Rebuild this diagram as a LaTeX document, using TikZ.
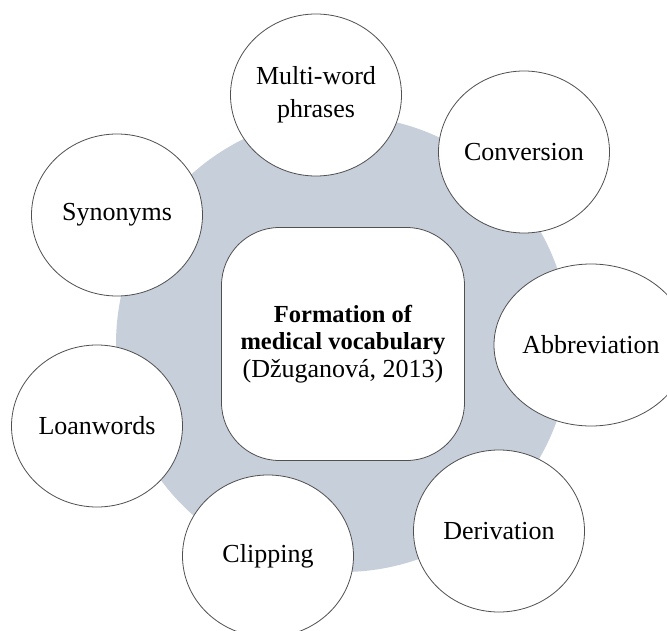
\documentclass[tikz,border=0pt]{standalone}
\usepackage{fontspec}
\setmainfont{Liberation Serif}
\usetikzlibrary{shapes.geometric}
\definecolor{ringgrey}{RGB}{199,207,218}
\definecolor{edgegrey}{RGB}{80,80,80}
\newcommand{\hubbold}[1]{{\fontsize{24.5}{27.5}\selectfont\bfseries #1}}
\begin{document}
\begin{tikzpicture}[x=1pt,y=-1pt,
  bubble/.style={ellipse, draw=edgegrey, line width=0.8pt, fill=white,
    minimum width=171pt, minimum height=162pt, inner sep=0pt,
    align=center, font=\fontsize{26}{33}\selectfont},
  hub/.style={rectangle, rounded corners=58pt, draw=edgegrey, line width=0.8pt,
    fill=white, minimum width=243pt, minimum height=233pt, inner sep=0pt,
    align=center, font=\fontsize{26}{27.5}\selectfont},
  ring/.style={ellipse, fill=ringgrey, minimum width=454pt,
    minimum height=456pt, inner sep=0pt}]
\useasboundingbox (0,0) rectangle (667,631);

% grey disc behind everything
\node[ring] (ring) at (343,344) {};

% central box
\node[hub] (hub) at (343,344)
  {\hubbold{Formation of}\\\hubbold{medical vocabulary}\\(Džuganová, 2013)};

% surrounding bubbles
\node[bubble] (mw)    at (316,95)  {Multi-word\\phrases};
\node[bubble] (conv)  at (524,152) {Conversion};
\node[bubble] (syn)   at (117,215) {Synonyms};
\node[bubble] (abbr)  at (591,345) {Abbreviation};
\node[bubble] (loan)  at (97,426)  {Loanwords};
\node[bubble] (deriv) at (499,531) {Derivation};
\node[bubble] (clip)  at (268,556) {Clipping};
\end{tikzpicture}
\end{document}
